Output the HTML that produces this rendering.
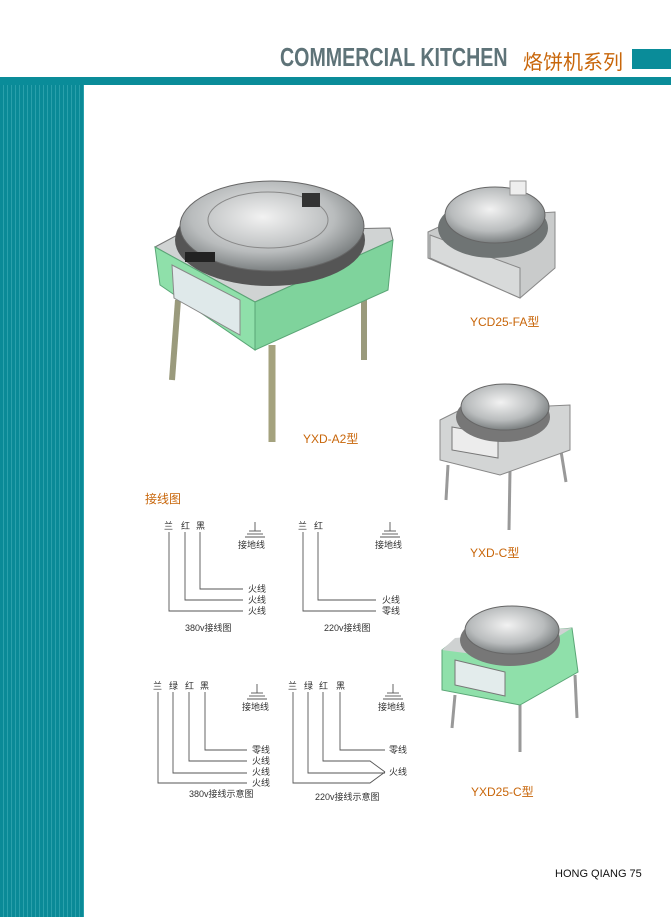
<!DOCTYPE html>
<html><head><meta charset="utf-8"><style>
html,body{margin:0;padding:0;background:#fff;}
body{width:671px;height:917px;position:relative;overflow:hidden;font-family:"Liberation Sans","Noto Sans CJK SC",sans-serif;}
.abs{position:absolute;white-space:nowrap;}
.lbl{color:#c8660a;font-size:12px;}
</style></head><body>
<div class="abs" style="left:0;top:77px;width:671px;height:8px;background:#0a8c99;"></div>
<div class="abs" style="left:0;top:85px;width:84px;height:832px;background:repeating-linear-gradient(90deg,#0a8a97 0,#0a8a97 3px,#2aa0ab 3px,#2aa0ab 4px);"></div>
<div class="abs" style="left:632px;top:49px;width:39px;height:20px;background:#0a8c99;"></div>
<div class="abs" style="left:280px;top:42px;font-size:26px;font-weight:bold;color:#5e7378;transform:scaleX(0.755);transform-origin:left top;">COMMERCIAL KITCHEN</div>
<div class="abs" style="left:523px;top:46px;font-size:20px;color:#c8660a;">烙饼机系列</div>

<svg class="abs" style="left:0;top:0" width="671" height="917" viewBox="0 0 671 917">
<defs>
<radialGradient id="steel" cx="45%" cy="40%" r="65%"><stop offset="0" stop-color="#f2f2f2"/><stop offset="0.6" stop-color="#b9bcbd"/><stop offset="1" stop-color="#6d7273"/></radialGradient>
</defs>
<g>
<line x1="178" y1="300" x2="172" y2="380" stroke="#9a9a7c" stroke-width="6"/>
<line x1="364" y1="290" x2="364" y2="360" stroke="#9a9a7c" stroke-width="6"/>
<line x1="272" y1="345" x2="272" y2="442" stroke="#a4a27e" stroke-width="7"/>
<polygon points="155,247 183,232 390,228 393,240 255,302" fill="#d0d3d3" stroke="#777" stroke-width="1"/>
<polygon points="155,247 255,302 255,350 160,285" fill="#8fe0aa" stroke="#5aa676"/>
<polygon points="255,302 393,240 388,290 255,350" fill="#7fd39c" stroke="#5aa676"/>
<polygon points="172,265 240,300 240,335 174,298" fill="#dfe9ea" stroke="#888"/>
<ellipse cx="270" cy="240" rx="95" ry="46" fill="#555"/>
<ellipse cx="272" cy="226" rx="92" ry="45" fill="url(#steel)" stroke="#666"/>
<ellipse cx="268" cy="220" rx="60" ry="28" fill="none" stroke="#888"/>
<rect x="302" y="193" width="18" height="14" fill="#333"/>
<rect x="185" y="252" width="30" height="10" fill="#222"/>
</g>
<g>
<polygon points="428,232 458,218 555,212 555,268 520,298 428,258" fill="#c9cbcb" stroke="#888"/>
<polygon points="430,235 520,268 520,298 430,258" fill="#d8dada" stroke="#888"/>
<ellipse cx="493" cy="228" rx="55" ry="30" fill="#6f7474"/>
<ellipse cx="495" cy="215" rx="50" ry="28" fill="url(#steel)" stroke="#666"/>
<rect x="510" y="181" width="16" height="14" fill="#eee" stroke="#999"/>
</g>
<g>
<line x1="448" y1="465" x2="446" y2="500" stroke="#999" stroke-width="3"/>
<line x1="560" y1="445" x2="566" y2="482" stroke="#999" stroke-width="3"/>
<line x1="510" y1="470" x2="509" y2="530" stroke="#999" stroke-width="3"/>
<polygon points="440,420 460,410 570,405 570,450 500,475 440,460" fill="#d3d5d5" stroke="#888"/>
<polygon points="452,427 498,435 498,458 452,450" fill="#ececec" stroke="#777"/>
<ellipse cx="503" cy="417" rx="47" ry="25" fill="#777"/>
<ellipse cx="505" cy="407" rx="44" ry="23" fill="url(#steel)" stroke="#666"/>
</g>
<g>
<line x1="455" y1="695" x2="452" y2="728" stroke="#999" stroke-width="3"/>
<line x1="575" y1="675" x2="577" y2="718" stroke="#999" stroke-width="3"/>
<line x1="520" y1="705" x2="520" y2="752" stroke="#999" stroke-width="3"/>
<polygon points="442,650 455,640 572,628 578,672 520,705 442,690" fill="#8fe0aa" stroke="#5aa676"/>
<polygon points="455,660 505,672 505,696 455,685" fill="#e3ecec" stroke="#777"/>
<polygon points="442,650 455,638 572,628 520,660" fill="#cfd2d2"/>
<ellipse cx="510" cy="640" rx="50" ry="26" fill="#777"/>
<ellipse cx="512" cy="630" rx="47" ry="24" fill="url(#steel)" stroke="#666"/>
</g>

<g stroke="#555" stroke-width="0.9" fill="none">
<polyline points="169,532 169,611 243,611"/><polyline points="185,532 185,600 243,600"/><polyline points="200,532 200,589 243,589"/>
<polyline points="303,532 303,611 376,611"/><polyline points="318,532 318,600 376,600"/>
<polyline points="158,692 158,783 247,783"/><polyline points="173,692 173,773 247,773"/><polyline points="189,692 189,761 247,761"/><polyline points="205,692 205,750 247,750"/>
<polyline points="293,692 293,783 370,783 385,772"/><polyline points="308,692 308,773 385,773"/><polyline points="323,692 323,761 370,761 385,772"/><polyline points="340,692 340,750 385,750"/>
<g id="g1"><line x1="255" y1="522" x2="255" y2="531"/><line x1="249" y1="531" x2="261" y2="531"/><line x1="247" y1="534" x2="263" y2="534"/><line x1="245" y1="537" x2="265" y2="537"/></g>
<use href="#g1" x="135"/><use href="#g1" x="2" y="162"/><use href="#g1" x="138" y="162"/>
</g>
<g font-size="9" fill="#333" font-family="Liberation Sans,Noto Sans CJK SC,sans-serif">
<text x="164" y="529">兰</text><text x="181" y="529">红</text><text x="196" y="529">黑</text>
<text x="238" y="548">接地线</text>
<text x="248" y="592">火线</text><text x="248" y="603">火线</text><text x="248" y="614">火线</text>
<text x="185" y="631">380v接线图</text>
<text x="298" y="529">兰</text><text x="314" y="529">红</text>
<text x="375" y="548">接地线</text>
<text x="382" y="603">火线</text><text x="382" y="614">零线</text>
<text x="324" y="631">220v接线图</text>
<text x="153" y="689">兰</text><text x="169" y="689">绿</text><text x="185" y="689">红</text><text x="200" y="689">黑</text>
<text x="242" y="710">接地线</text>
<text x="252" y="753">零线</text><text x="252" y="764">火线</text><text x="252" y="775">火线</text><text x="252" y="786">火线</text>
<text x="189" y="797">380v接线示意图</text>
<text x="288" y="689">兰</text><text x="304" y="689">绿</text><text x="319" y="689">红</text><text x="336" y="689">黑</text>
<text x="378" y="710">接地线</text>
<text x="389" y="753">零线</text><text x="389" y="775">火线</text>
<text x="315" y="800">220v接线示意图</text>
</g>
</svg>

<div class="abs lbl" style="left:470px;top:313px;">YCD25-FA型</div>
<div class="abs lbl" style="left:303px;top:430px;">YXD-A2型</div>
<div class="abs lbl" style="left:470px;top:544px;">YXD-C型</div>
<div class="abs lbl" style="left:471px;top:783px;">YXD25-C型</div>
<div class="abs lbl" style="left:145px;top:490px;font-size:12px;">接线图</div>
<div class="abs" style="left:555px;top:868px;font-size:11px;color:#111;">HONG QIANG 75</div>
</body></html>
